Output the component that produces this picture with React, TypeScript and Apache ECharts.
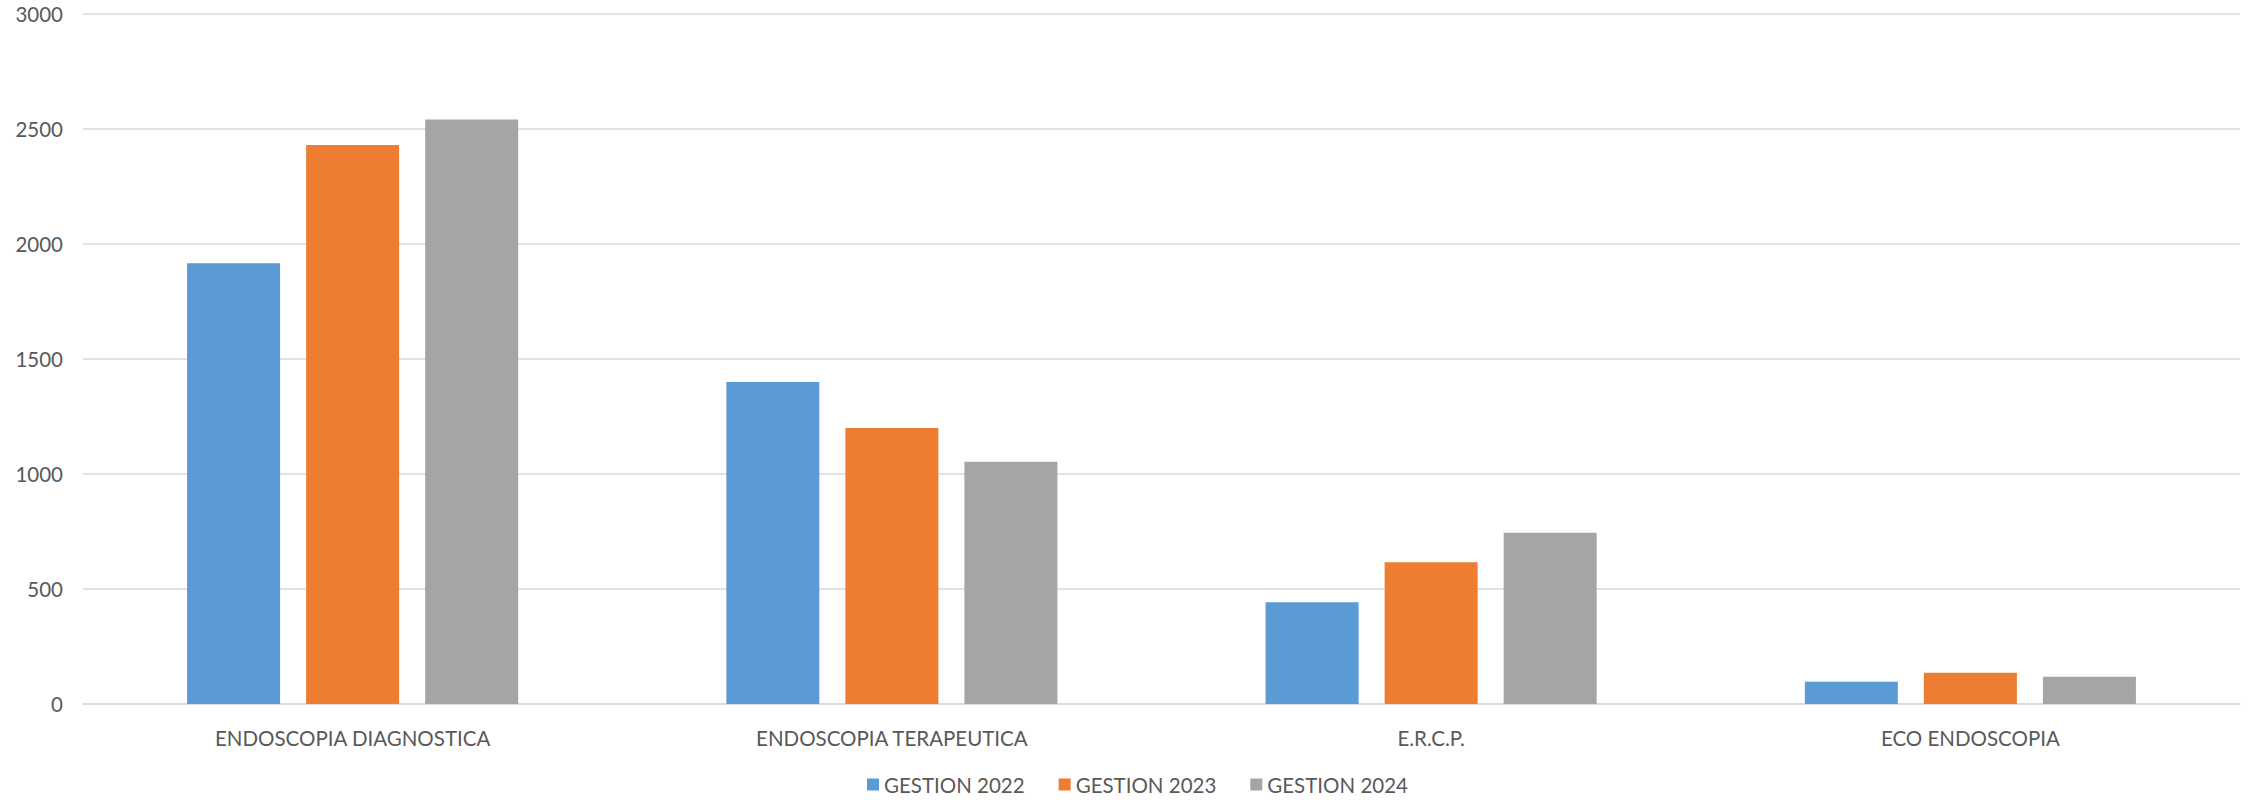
import React, { useEffect, useRef } from "react";
import * as echarts from "echarts";

const categories = ["ENDOSCOPIA DIAGNOSTICA", "ENDOSCOPIA TERAPEUTICA", "E.R.C.P.", "ECO ENDOSCOPIA"];
const seriesNames = ["GESTION 2022", "GESTION 2023", "GESTION 2024"];
const gestion2022 = [1916, 1400, 442, 97];
const gestion2023 = [2430, 1200, 616, 136];
const gestion2024 = [2541, 1053, 745, 119];
const colors = ["#5B9BD5", "#ED7D31", "#A5A5A5"];

const FONT = "Lato, 'Noto Sans', sans-serif";
const TEXT = "#595959";

export default function App() {
  const ref = useRef<HTMLDivElement>(null);
  useEffect(() => {
    document.body.style.margin = "0";
    const chart = echarts.init(ref.current!, null, { renderer: "svg" });
    const values = [gestion2022, gestion2023, gestion2024];
    chart.setOption({
      animation: false,
      backgroundColor: "#ffffff",
      grid: { left: 83, right: 9, top: 14, bottom: 98, containLabel: false },
      legend: {
        bottom: 2,
        left: 862,
        itemWidth: 12,
        itemHeight: 12,
        itemGap: 34,
        icon: "rect",
        textStyle: { color: TEXT, fontFamily: FONT, fontSize: 20.5, padding: [0, 0, 0, 0] },
        data: seriesNames,
      },
      xAxis: {
        type: "category",
        data: categories,
        axisLine: { show: true, lineStyle: { color: "#D9D9D9", width: 1.5 } },
        axisTick: { show: false },
        axisLabel: { color: TEXT, fontFamily: FONT, fontSize: 20.5, margin: 23 },
      },
      yAxis: {
        type: "value",
        min: 0,
        max: 3000,
        interval: 500,
        axisLine: { show: false },
        axisTick: { show: false },
        axisLabel: {
          color: TEXT,
          fontFamily: FONT,
          fontSize: 20.5,
          margin: 20,
          formatter: (v: number) => String(v),
        },
        splitLine: { lineStyle: { color: "#D9D9D9", width: 1.5 } },
      },
      series: seriesNames.map((name, i) => ({
        name,
        type: "bar",
        data: values[i],
        barWidth: 93,
        barGap: "28%",
        itemStyle: { color: colors[i] },
      })),
    });
    return () => chart.dispose();
  }, []);
  return <div ref={ref} style={{ position: "fixed", left: 0, top: 0, width: 2249, height: 802 }} />;
}
